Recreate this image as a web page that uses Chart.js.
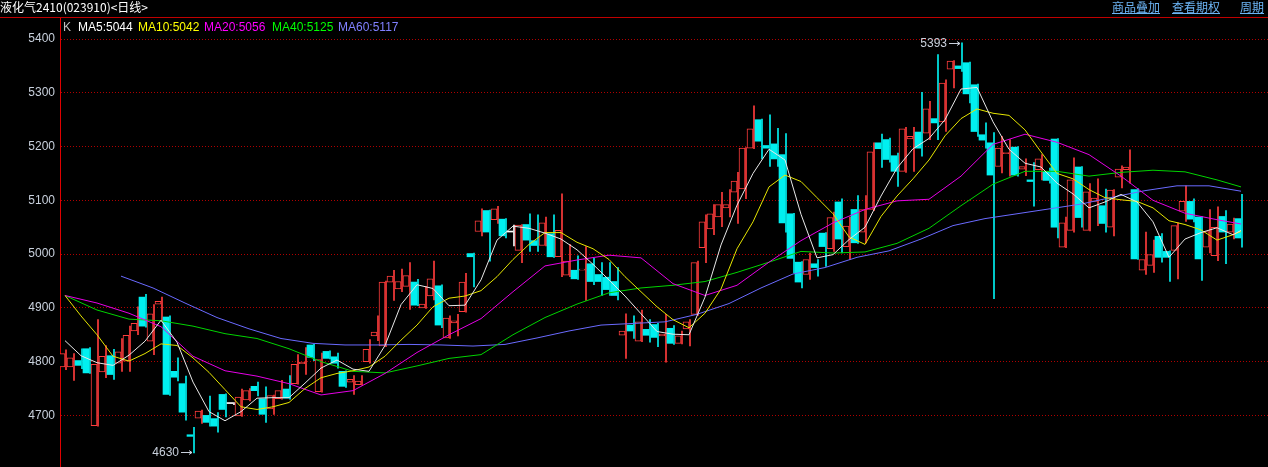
<!DOCTYPE html>
<html>
<head>
<meta charset="utf-8">
<title>液化气2410 日线</title>
<script src="https://cdn.jsdelivr.net/npm/chart.js@4.4.1/dist/chart.umd.min.js"></script>
<style>
    html, body { margin: 0; padding: 0; background: #000; }
    #wrap { position: relative; width: 1268px; height: 467px; overflow: hidden; background: #000; }
    #chart { position: absolute; left: 0; top: 0; }
    #topbar { position: absolute; left: 0; top: 0; width: 1268px; height: 17px; border-bottom: 1px solid #c00000; }
    #title { position: absolute; left: 0; top: -2px; font: 12px "Noto Sans CJK SC"; line-height: 17px; color: #fff; white-space: nowrap; }
    .link { position: absolute; top: -2px; font: 12px "Noto Sans CJK SC"; line-height: 17px; color: #6cb4f4; text-decoration: underline; white-space: nowrap; }
    .leg { position: absolute; top: 19px; font: 12px "Liberation Sans", Arial, sans-serif; line-height: 16px; white-space: nowrap; }
</style>
</head>
<body>
<div id="wrap">
    <canvas id="chart" width="1268" height="467"></canvas>
    <div id="topbar"></div>
    <div id="title">液化气2410(023910)&lt;日线&gt;</div>
    <div class="link" style="left:1112px">商品叠加</div>
    <div class="link" style="left:1172px">查看期权</div>
    <div class="link" style="left:1240px">周期</div>
    <div class="leg" style="left:63px;color:#c0c0c0">K</div>
    <div class="leg" id="leg5" style="left:78px;color:#ffffff"></div>
    <div class="leg" id="leg10" style="left:138px;color:#ffff00"></div>
    <div class="leg" id="leg20" style="left:204px;color:#ff00ff"></div>
    <div class="leg" id="leg40" style="left:272px;color:#00ff00"></div>
    <div class="leg" id="leg60" style="left:338px;color:#8080ff"></div>
</div>
<script>
// ---------------------------------------------------------------------------
// Daily candles (one entry per trading day, left to right)
// ---------------------------------------------------------------------------
const opens = [
    4790, 4790, 4802, 4824, 4681, 4781, 4811, 4797, 4801, 4857,
    4920, 4838, 4907, 4883, 4782, 4759, 4664, 4695, 4700, 4694,
    4739, 4722, 4699, 4729, 4754, 4731, 4712, 4731, 4749, 4759,
    4796, 4831, 4744, 4819, 4809, 4782, 4762, 4757, 4800, 4848,
    4829, 4948, 4935, 4940, 4948, 4900, 4922, 4941, 4844, 4872,
    4893, 5001, 5042, 5081, 5064, 5065, 5041, 5007, 5055, 5025,
    5016, 5038, 4995, 4961, 4970, 4970, 4982, 4962, 4957, 4949,
    4849, 4868, 4838, 4860, 4869, 4848, 4862, 4834, 4861, 4888,
    5012, 5047, 5069, 5086, 5115, 5121, 5197, 5250, 5202, 5205,
    5185, 5075, 4985, 4962, 4982, 5039, 5010, 5097, 5014, 5083,
    5041, 5083, 5207, 5213, 5183, 5154, 5214, 5227, 5225, 5252,
    5246, 5344, 5350, 5356, 5315, 5222, 5207, 5163, 5187, 5199,
    5158, 5138, 5157, 5154, 5214, 5013, 5044, 5162, 5044, 5098,
    5090, 5050, 5143, 5157, 5120, 4970, 4979, 5033, 5005, 5007,
    5080, 5098, 5069, 5013, 4997, 5070, 5041, 5066
];
const highs = [
    4822, 4815, 4824, 4826, 4878, 4830, 4823, 4843, 4866, 4902,
    4925, 4906, 4920, 4885, 4807, 4773, 4678, 4710, 4736, 4705,
    4740, 4724, 4749, 4750, 4762, 4753, 4738, 4765, 4774, 4813,
    4826, 4832, 4816, 4820, 4816, 4783, 4774, 4774, 4841, 4885,
    4950, 4970, 4972, 4984, 4953, 4940, 4987, 4943, 4885, 4888,
    4964, 5002, 5084, 5082, 5089, 5066, 5054, 5055, 5075, 5073,
    5069, 5073, 5112, 5018, 4997, 5014, 4992, 4984, 4984, 4975,
    4889, 4885, 4896, 4878, 4871, 4888, 4867, 4857, 4878, 4987,
    5073, 5092, 5115, 5120, 5152, 5198, 5276, 5251, 5259, 5234,
    5224, 5076, 4986, 5002, 4990, 5040, 5078, 5103, 5069, 5109,
    5109, 5207, 5223, 5216, 5188, 5236, 5236, 5301, 5284, 5371,
    5324, 5360, 5393, 5357, 5316, 5244, 5226, 5219, 5213, 5200,
    5177, 5170, 5185, 5160, 5215, 5069, 5179, 5163, 5131, 5140,
    5121, 5120, 5164, 5194, 5122, 5041, 5026, 5038, 5006, 5058,
    5127, 5103, 5070, 5083, 5088, 5081, 5067, 5111
];
const lows = [
    4785, 4765, 4787, 4778, 4680, 4770, 4767, 4782, 4782, 4850,
    4864, 4813, 4875, 4737, 4764, 4691, 4630, 4685, 4680, 4669,
    4697, 4720, 4698, 4727, 4736, 4687, 4702, 4730, 4730, 4758,
    4776, 4802, 4743, 4805, 4788, 4752, 4739, 4756, 4797, 4839,
    4828, 4914, 4930, 4897, 4904, 4899, 4915, 4863, 4843, 4848,
    4892, 4939, 5034, 4987, 5057, 5030, 5015, 4984, 5005, 5005,
    5015, 4994, 4958, 4958, 4953, 4914, 4943, 4923, 4923, 4915,
    4806, 4843, 4837, 4836, 4828, 4799, 4832, 4833, 4829, 4886,
    4984, 5036, 5051, 5069, 5057, 5103, 5196, 5177, 5163, 5163,
    5041, 4965, 4937, 4953, 4959, 4977, 5005, 5002, 4990, 5020,
    5021, 5081, 5161, 5171, 5126, 5152, 5154, 5182, 5213, 5213,
    5228, 5309, 5340, 5281, 5219, 5197, 4917, 5151, 5145, 5145,
    5146, 5089, 5138, 5132, 5030, 5012, 5041, 5050, 5043, 5053,
    5041, 5034, 5123, 5132, 4990, 4962, 4966, 4985, 4949, 4954,
    5061, 5060, 4951, 5002, 4988, 4982, 5028, 5013
];
const closes = [
    4815, 4807, 4793, 4779, 4795, 4810, 4776, 4818, 4849, 4871,
    4866, 4889, 4912, 4739, 4771, 4706, 4661, 4708, 4687, 4680,
    4711, 4722, 4734, 4746, 4746, 4702, 4737, 4746, 4732, 4795,
    4799, 4808, 4804, 4806, 4797, 4754, 4767, 4764, 4823, 4855,
    4948, 4959, 4949, 4960, 4905, 4907, 4954, 4868, 4881, 4876,
    4948, 4995, 5062, 5041, 5084, 5034, 5041, 5054, 5026, 5016,
    5058, 4995, 5044, 4987, 4954, 4972, 4949, 4949, 4934, 4923,
    4857, 4857, 4874, 4849, 4845, 4851, 4834, 4848, 4874, 4984,
    5060, 5075, 5092, 5092, 5136, 5197, 5233, 5210, 5197, 5177,
    5058, 4992, 4948, 4990, 4975, 5014, 5068, 5028, 5052, 5021,
    5083, 5190, 5196, 5176, 5154, 5233, 5219, 5197, 5270, 5244,
    5318, 5359, 5345, 5298, 5228, 5212, 5147, 5197, 5189, 5147,
    5163, 5135, 5177, 5137, 5050, 5058, 5138, 5068, 5116, 5104,
    5057, 5119, 5158, 5162, 4991, 4990, 4999, 4994, 4994, 5053,
    5098, 5065, 4991, 5042, 5050, 5041, 5056, 5030
];

// ---------------------------------------------------------------------------
// Moving averages read off the chart (sampled every few candles)
// ---------------------------------------------------------------------------
// MA5 / MA10: every 2nd candle from day 0, last value is the final day
const ma5 = [
    4839, 4811, 4798, 4793, 4812, 4838, 4877, 4836, 4762, 4707,
    4690, 4707, 4732, 4733, 4733, 4760, 4788, 4803, 4786, 4782,
    4830, 4906, 4943, 4936, 4904, 4905, 4952, 5026, 5052, 5048,
    5039, 5028, 5008, 4981, 4952, 4922, 4889, 4856, 4851, 4850,
    4920, 5017, 5091, 5150, 5195, 5175, 5074, 4993, 4999, 5027,
    5050, 5108, 5160, 5196, 5215, 5250, 5307, 5310, 5246, 5195,
    5169, 5162, 5132, 5112, 5086, 5097, 5111, 5097, 5060, 4994,
    5028, 5040, 5049, 5036, 5044
];
const ma10 = [
    4923, 4885, 4850, 4810, 4801, 4815, 4833, 4830, 4807, 4780,
    4748, 4716, 4711, 4716, 4724, 4750, 4770, 4778, 4783, 4790,
    4810, 4840, 4868, 4902, 4918, 4922, 4932, 4958, 4990, 5018,
    5040, 5040, 5022, 5010, 4990, 4958, 4930, 4902, 4878, 4863,
    4890, 4935, 5010, 5060, 5125, 5147, 5135, 5105, 5075, 5032,
    5018, 5070, 5108, 5140, 5175, 5220, 5252, 5270, 5262, 5258,
    5231, 5190, 5150, 5140, 5120, 5105, 5101, 5098, 5086, 5062,
    5055, 5045, 5026, 5036, 5042
];
// MA20 / MA40: every 4th candle from day 0, last value is the final day
const ma20 = [
    4923, 4909, 4890, 4865, 4810, 4783, 4773, 4759, 4738, 4746,
    4778, 4817, 4850, 4880, 4930, 4978, 4989, 4998, 4993, 4945,
    4923, 4942, 4985, 5025, 5058, 5083, 5099, 5102, 5145, 5204,
    5223, 5208, 5185, 5145, 5100, 5076, 5064, 5056
];
const ma40 = [
    4923, 4896, 4879, 4876, 4866, 4852, 4843, 4824, 4800, 4782,
    4779, 4792, 4806, 4813, 4850, 4882, 4907, 4928, 4937, 4942,
    4949, 4966, 4985, 5005, 5002, 5004, 5020, 5048, 5090, 5130,
    5154, 5154, 5145, 5152, 5156, 5153, 5138, 5125
];
// MA60: every 4th candle from day 7
const ma60 = [
    4959, 4937, 4909, 4882, 4861, 4843, 4834, 4831, 4831, 4832,
    4831, 4829, 4832, 4844, 4857, 4868, 4871, 4874, 4888, 4908,
    4937, 4963, 4975, 4994, 5006, 5028, 5053, 5066, 5075, 5084,
    5093, 5106, 5118, 5127, 5127, 5117
];

const yTicks = [4700, 4800, 4900, 5000, 5100, 5200, 5300, 5400];

// ---------------------------------------------------------------------------
// Helpers
// ---------------------------------------------------------------------------
const UP = '#ff3c3c';
const DOWN = '#00f0f0';
const FLAT = '#ffffff';
const LABEL = '#c8d0dc';

const lastDay = closes.length - 1;
const days = closes.map((_, i) => i);

function candleColor(i) {
    if (i === undefined) return UP;
    if (closes[i] > opens[i]) return UP;
    if (closes[i] < opens[i]) return DOWN;
    return FLAT;
}

function maPoints(values, start, step) {
    return values.map((v, i) => ({ x: Math.min(start + i * step, lastDay), y: v }));
}

function maLine(label, values, start, step, color) {
    return {
        type: 'line',
        label,
        data: maPoints(values, start, step),
        borderColor: color,
        borderWidth: 1,
        pointRadius: 0,
        tension: 0,
        order: 0,
        xAxisID: 'x',
        yAxisID: 'y'
    };
}

// legend values = last point of each average
document.getElementById('leg5').textContent = 'MA5:' + ma5[ma5.length - 1];
document.getElementById('leg10').textContent = 'MA10:' + ma10[ma10.length - 1];
document.getElementById('leg20').textContent = 'MA20:' + ma20[ma20.length - 1];
document.getElementById('leg40').textContent = 'MA40:' + ma40[ma40.length - 1];
document.getElementById('leg60').textContent = 'MA60:' + ma60[ma60.length - 1];

// 8px per trading day, plot starts at x = 60
const X_MIN = -0.625;
const X_MAX = X_MIN + (1268 - 60) / 8;

// -------------------------------------------------------------------------
// Highest high / lowest low markers ("5393 ->")
// -------------------------------------------------------------------------
function drawMark(ctx, px, py, text) {
    const tip = Math.round(px) - 1;
    const yy = Math.round(py) + 0.5;
    ctx.save();
    ctx.strokeStyle = LABEL;
    ctx.fillStyle = LABEL;
    ctx.lineWidth = 1;
    ctx.beginPath();
    ctx.moveTo(tip - 11, yy);
    ctx.lineTo(tip, yy);
    ctx.moveTo(tip - 3, yy - 2);
    ctx.lineTo(tip, yy);
    ctx.lineTo(tip - 3, yy + 2);
    ctx.stroke();
    ctx.font = '12px "Liberation Sans", Arial, sans-serif';
    ctx.textAlign = 'right';
    ctx.textBaseline = 'middle';
    ctx.fillText(text, tip - 13, yy);
    ctx.restore();
}

const extremesPlugin = {
    id: 'extremes',
    afterDatasetsDraw(chart) {
        const { ctx, scales } = chart;
        const hi = Math.max(...highs);
        const lo = Math.min(...lows);
        const hiDay = highs.indexOf(hi);
        const loDay = lows.indexOf(lo);
        drawMark(ctx, scales.x.getPixelForValue(hiDay), scales.y.getPixelForValue(hi), String(hi));
        drawMark(ctx, scales.x.getPixelForValue(loDay), scales.y.getPixelForValue(lo) - 1, String(lo));
    }
};

// ---------------------------------------------------------------------------
// Chart
// ---------------------------------------------------------------------------
new Chart(document.getElementById('chart'), {
    type: 'bar',
    data: {
        datasets: [
            maLine('MA5', ma5, 0, 2, '#e8e8e8'),
            maLine('MA10', ma10, 0, 2, '#e6e600'),
            maLine('MA20', ma20, 0, 4, '#e600e6'),
            maLine('MA40', ma40, 0, 4, '#00d400'),
            maLine('MA60', ma60, 7, 4, '#6a6aff'),
            {
                // candle bodies
                type: 'bar',
                label: 'K',
                data: days.map(i => ({ x: i, y: [Math.min(opens[i], closes[i]), Math.max(opens[i], closes[i])] })),
                xAxisID: 'x',
                yAxisID: 'y',
                order: 1,
                barThickness: 6,
                minBarLength: 1,
                borderSkipped: false,
                backgroundColor: c => (closes[c.dataIndex] > opens[c.dataIndex] ? '#000000' : candleColor(c.dataIndex)),
                borderColor: c => candleColor(c.dataIndex),
                borderWidth: c => (closes[c.dataIndex] > opens[c.dataIndex] ? 1 : 0)
            },
            {
                // wicks
                type: 'bar',
                label: 'wick',
                data: days.map(i => ({ x: i, y: [lows[i], highs[i]] })),
                xAxisID: 'xw',
                yAxisID: 'y',
                order: 2,
                barThickness: 1,
                minBarLength: 1,
                borderWidth: 0,
                backgroundColor: c => candleColor(c.dataIndex)
            }
        ]
    },
    options: {
        responsive: false,
        animation: false,
        events: [],
        layout: { padding: { top: 17, left: 0, right: 0, bottom: 0 } },
        plugins: {
            legend: { display: false },
            tooltip: { enabled: false }
        },
        scales: {
            x: { type: 'linear', min: X_MIN, max: X_MAX, offset: false, display: false },
            xw: { type: 'linear', min: X_MIN - 0.0625, max: X_MAX - 0.0625, offset: false, display: false },
            y: {
                type: 'linear',
                position: 'left',
                min: 4604,
                max: 5441,
                afterBuildTicks: s => { s.ticks = yTicks.map(v => ({ value: v })); },
                afterFit: s => { s.width = 60; s.paddingTop = 0; s.paddingBottom = 0; },
                ticks: {
                    color: LABEL,
                    padding: 5,
                    font: { family: '"Liberation Sans", Arial, sans-serif', size: 12 },
                    callback: v => String(v)
                },
                grid: { color: '#b00000', lineWidth: 1, drawTicks: false },
                border: { display: true, color: '#e00000', width: 1, dash: [1, 2] }
            }
        }
    },
    plugins: [extremesPlugin]
});
</script>
</body>
</html>
